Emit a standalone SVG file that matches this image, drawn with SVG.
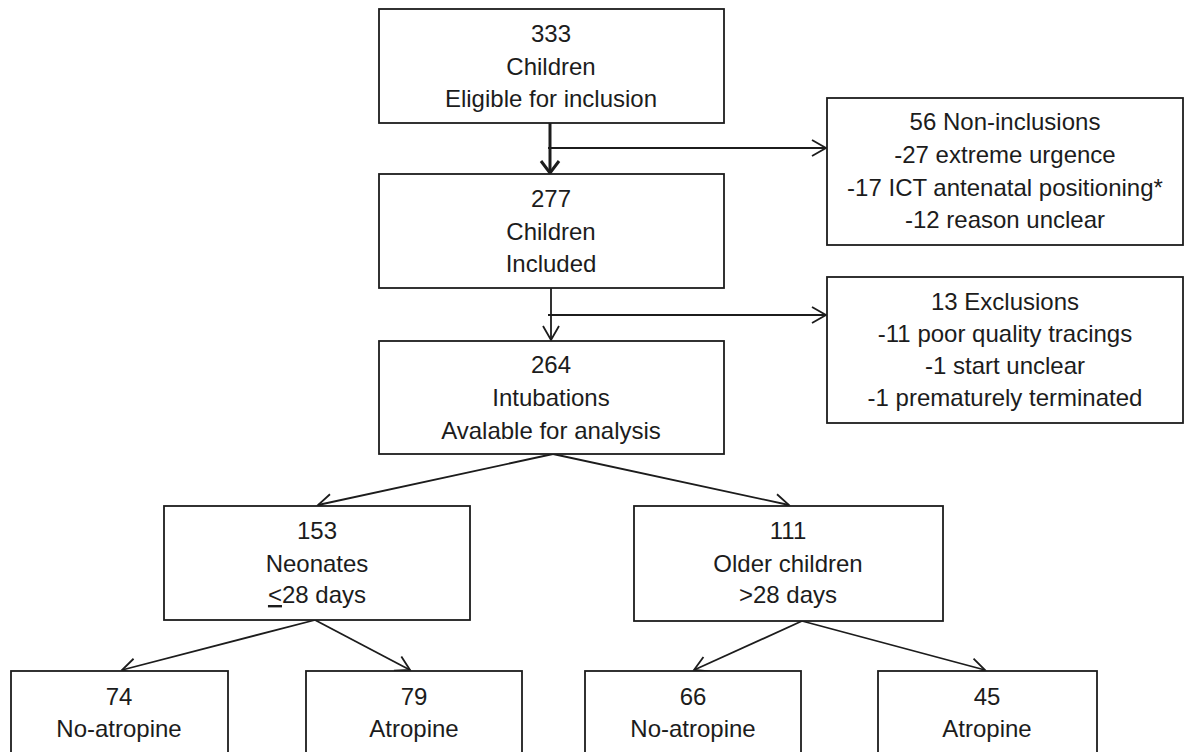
<svg xmlns="http://www.w3.org/2000/svg" width="1185" height="752" viewBox="0 0 1185 752">
<style>
.box{fill:#fff;stroke:#1c1c1c;stroke-width:1.8}
.t{font-family:"Liberation Sans",Arial,sans-serif;font-size:24px;fill:#1c1c1c;text-anchor:middle}
.c{fill:none;stroke:#1c1c1c;stroke-width:1.8}
.ct{fill:none;stroke:#1c1c1c;stroke-width:3}
</style>
<defs>
<marker id="ah" markerUnits="userSpaceOnUse" viewBox="-16 -10 18 20" refX="0" refY="0" markerWidth="18" markerHeight="20" orient="auto" overflow="visible">
<path d="M-14,-8 L0,0 L-14,8" fill="none" stroke="#1c1c1c" stroke-width="1.8"/>
</marker>
<marker id="ahb" markerUnits="userSpaceOnUse" viewBox="-16 -12 18 24" refX="0" refY="0" markerWidth="18" markerHeight="24" orient="auto" overflow="visible">
<path d="M-12,-9 L0,0 L-12,9" fill="none" stroke="#1c1c1c" stroke-width="3"/>
</marker>
</defs>
<rect width="1185" height="752" fill="#fff"/>
<g id="connectors">
<line class="ct" x1="550" y1="123" x2="550" y2="173" marker-end="url(#ahb)"/>
<line class="c" x1="548" y1="148" x2="826" y2="148" marker-end="url(#ah)"/>
<line class="c" x1="551" y1="288" x2="551" y2="340" marker-end="url(#ah)"/>
<line class="c" x1="548" y1="315" x2="826" y2="315" marker-end="url(#ah)"/>
<line class="c" x1="553" y1="454" x2="318" y2="505" marker-end="url(#ah)"/>
<line class="c" x1="553" y1="454" x2="789" y2="505" marker-end="url(#ah)"/>
<line class="c" x1="315" y1="620" x2="122" y2="670" marker-end="url(#ah)"/>
<line class="c" x1="315" y1="620" x2="410" y2="670" marker-end="url(#ah)"/>
<line class="c" x1="802" y1="621" x2="694" y2="670" marker-end="url(#ah)"/>
<line class="c" x1="802" y1="621" x2="985" y2="670" marker-end="url(#ah)"/>
</g>
<g id="n333">
<rect class="box" x="379" y="9" width="345" height="114"/>
<text class="t" x="551" y="42">333</text>
<text class="t" x="551" y="74.5">Children</text>
<text class="t" x="551" y="107">Eligible for inclusion</text>
</g>
<g id="n277">
<rect class="box" x="379" y="174" width="345" height="114"/>
<text class="t" x="551" y="207">277</text>
<text class="t" x="551" y="239.5">Children</text>
<text class="t" x="551" y="272">Included</text>
</g>
<g id="n264">
<rect class="box" x="379" y="341" width="345" height="113"/>
<text class="t" x="551" y="373">264</text>
<text class="t" x="551" y="406">Intubations</text>
<text class="t" x="551" y="439">Avalable for analysis</text>
</g>
<g id="nonincl">
<rect class="box" x="827" y="98" width="356" height="147"/>
<text class="t" x="1005" y="130">56 Non-inclusions</text>
<text class="t" x="1005" y="163">-27 extreme urgence</text>
<text class="t" x="1005" y="196">-17 ICT antenatal positioning*</text>
<text class="t" x="1005" y="228">-12 reason unclear</text>
</g>
<g id="excl">
<rect class="box" x="827" y="277" width="356" height="146"/>
<text class="t" x="1005" y="310">13 Exclusions</text>
<text class="t" x="1005" y="342">-11 poor quality tracings</text>
<text class="t" x="1005" y="374">-1 start unclear</text>
<text class="t" x="1005" y="406">-1 prematurely terminated</text>
</g>
<g id="neonates">
<rect class="box" x="164" y="506" width="306" height="114"/>
<text class="t" x="317" y="539">153</text>
<text class="t" x="317" y="572">Neonates</text>
<text class="t" x="317" y="603"><tspan style="text-decoration:underline">&lt;</tspan>28 days</text>
</g>
<g id="older">
<rect class="box" x="634" y="506" width="309" height="115"/>
<text class="t" x="788" y="539">111</text>
<text class="t" x="788" y="572">Older children</text>
<text class="t" x="788" y="603">&gt;28 days</text>
</g>
<g id="n74">
<rect class="box" x="11" y="671" width="217" height="100"/>
<text class="t" x="119" y="705">74</text>
<text class="t" x="119" y="737">No-atropine</text>
</g>
<g id="n79">
<rect class="box" x="306" y="671" width="216" height="100"/>
<text class="t" x="414" y="705">79</text>
<text class="t" x="414" y="737">Atropine</text>
</g>
<g id="n66">
<rect class="box" x="585" y="671" width="216" height="100"/>
<text class="t" x="693" y="705">66</text>
<text class="t" x="693" y="737">No-atropine</text>
</g>
<g id="n45">
<rect class="box" x="878" y="671" width="219" height="100"/>
<text class="t" x="987" y="705">45</text>
<text class="t" x="987" y="737">Atropine</text>
</g>
</svg>
